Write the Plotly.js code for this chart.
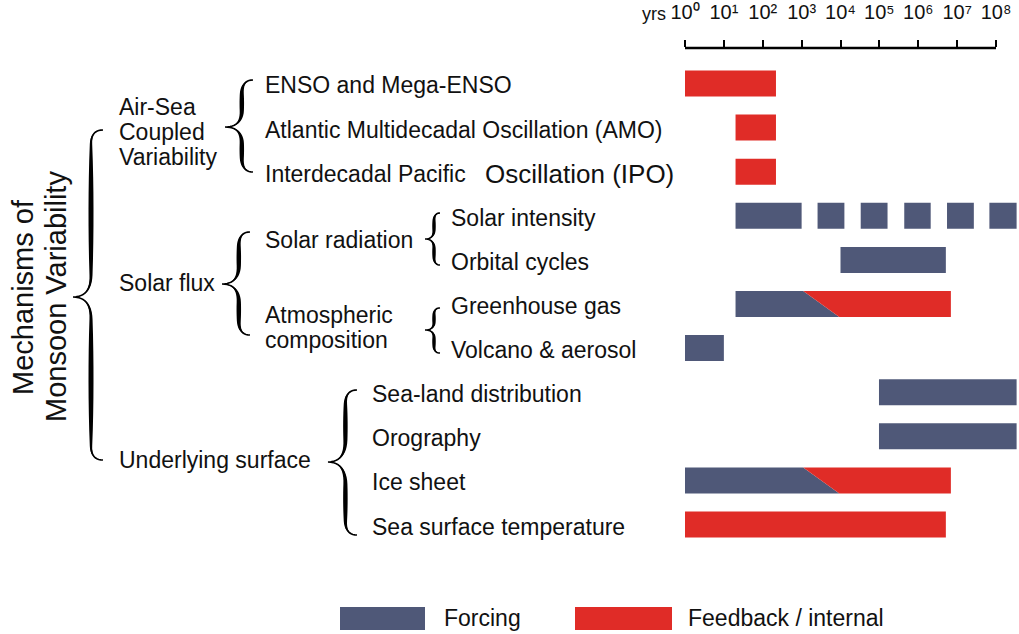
<!DOCTYPE html>
<html>
<head>
<meta charset="utf-8">
<script src="https://cdn.plot.ly/plotly-3.0.1.min.js"></script>
<style>body{margin:0;background:#fff}#chart{width:1019px;height:634px}</style>
</head>
<body>
<div id="chart"></div>
<script>
// ---------------- DATA (time scales in log10 years) ----------------
const categories = [
  "ENSO and Mega-ENSO",
  "Atlantic Multidecadal Oscillation (AMO)",
  "Interdecadal Pacific Oscillation (IPO)",
  "Solar intensity",
  "Orbital cycles",
  "Greenhouse gas",
  "Volcano & aerosol",
  "Sea-land distribution",
  "Orography",
  "Ice sheet",
  "Sea surface temperature"
];
const tickExponents = [0, 1, 2, 3, 4, 5, 6, 7, 8];
const tickLabels = ["10\u2070", "10\u00b9", "10\u00b2", "10\u00b3", "10\u2074",
                    "10\u2075", "10\u2076", "10\u2077", "10\u2078"];

// Forcing segments
const forcingRow   = [3, 3, 3, 3, 3, 3, 4, 6, 7, 8];
const forcingStart = [1.30, 3.41, 4.52, 5.64, 6.74, 7.83, 4.00, 0.00, 4.99, 4.99];
const forcingEnd   = [3.00, 4.10, 5.21, 6.32, 7.43, 8.53, 6.71, 1.00, 8.53, 8.53];

// Feedback / internal segments
const feedbackRow   = [0, 1, 2, 10];
const feedbackStart = [0.00, 1.30, 1.30, 0.00];
const feedbackEnd   = [2.34, 2.34, 2.34, 6.71];

// Mixed segments: forcing turning into feedback along a slanted boundary
const mixedRow         = [5, 9];
const mixedStart       = [1.30, 0.00];
const mixedSplitTop    = [3.04, 3.04];
const mixedSplitBottom = [3.97, 3.97];
const mixedEnd         = [6.84, 6.84];

const legendNames = ["Forcing", "Feedback / internal"];

// ---------------- STYLE / LAYOUT ----------------
const W = 1019, H = 634;
const BLUE = "#4f5878", RED = "#e02c27", INK = "#111111";
const FONT = "Liberation Sans, Arial, Helvetica, sans-serif";
const BAR = 0.59;               // bar thickness in row units
const fx = px => px / W;        // pixel -> paper
const fy = py => 1 - py / H;

const ppd = 38.875, x0px = 685;         // pixels per decade, position of 10^0
const xr = [-0.1, 8.55];
const xDomain = [fx(x0px + xr[0] * ppd), fx(x0px + xr[1] * ppd)];
const rowPx0 = 83.5, rowStep = 44.1, topPx = 48, botPx = 560;
const yRange = [(botPx - rowPx0) / rowStep, (topPx - rowPx0) / rowStep];
const yDomain = [fy(botPx), fy(topPx)];

const traces = [];
traces.push({
  type: "bar", orientation: "h", y: forcingRow, base: forcingStart,
  x: forcingEnd.map((e, i) => e - forcingStart[i]), width: BAR,
  marker: {color: BLUE, line: {width: 0}}, name: legendNames[0], showlegend: false, hoverinfo: "skip"
});
traces.push({
  type: "bar", orientation: "h", y: feedbackRow, base: feedbackStart,
  x: feedbackEnd.map((e, i) => e - feedbackStart[i]), width: BAR,
  marker: {color: RED, line: {width: 0}}, name: legendNames[1], showlegend: false, hoverinfo: "skip"
});
mixedRow.forEach((r, i) => {
  const t = r - BAR / 2, b = r + BAR / 2;
  traces.push({
    type: "scatter", mode: "lines", fill: "toself", fillcolor: BLUE,
    line: {width: 0, color: BLUE}, hoverinfo: "skip", showlegend: false,
    x: [mixedStart[i], mixedSplitTop[i], mixedSplitBottom[i], mixedStart[i], mixedStart[i]],
    y: [t, t, b, b, t]
  });
  traces.push({
    type: "scatter", mode: "lines", fill: "toself", fillcolor: RED,
    line: {width: 0, color: RED}, hoverinfo: "skip", showlegend: false,
    x: [mixedSplitTop[i], mixedEnd[i], mixedEnd[i], mixedSplitBottom[i], mixedSplitTop[i]],
    y: [t, t, b, b, t]
  });
});

// ---------------- annotations ----------------
const ann = [];
const txt = (text, xpx, ypx, size, extra) => Object.assign({
  text: text, xref: "paper", yref: "paper", x: fx(xpx), y: fy(ypx),
  xanchor: "left", yanchor: "middle", showarrow: false,
  font: {family: FONT, size: size || 23, color: INK}
}, extra || {});

// item labels, tied to rows
const labelX = [263, 263, 263, 449, 449, 449, 449, 370, 370, 370, 370];
categories.forEach((c, i) => {
  let text = c;
  if (c.indexOf(" Oscillation (IPO)") > 0) {
    text = c.replace(" Oscillation (IPO)", "");
    ann.push({text: "Oscillation (IPO)", xref: "paper", yref: "y", x: fx(483), y: i, yshift: -2,
      xanchor: "left", yanchor: "middle", showarrow: false, font: {family: FONT, size: 26, color: INK}});
  }
  ann.push({text: text, xref: "paper", yref: "y", x: fx(labelX[i]), y: i, yshift: -2,
    xanchor: "left", yanchor: "middle", showarrow: false, font: {family: FONT, size: 23, color: INK}});
});

// group labels
ann.push(txt("Air-Sea", 117, 107));
ann.push(txt("Coupled", 117, 132));
ann.push(txt("Variability", 117, 157));
ann.push(txt("Solar flux", 117, 283));
ann.push(txt("Underlying surface", 117, 460));
ann.push(txt("Solar radiation", 263, 240));
ann.push(txt("Atmospheric", 263, 315));
ann.push(txt("composition", 263, 340));
// rotated title
ann.push(txt("Mechanisms of", 23, 297, 29, {xanchor: "center", textangle: -90}));
ann.push(txt("Monsoon Variability", 56, 297, 29, {xanchor: "center", textangle: -90}));
// axis unit
ann.push(txt("yrs", 654, 14, 18, {xanchor: "center"}));
// legend labels
ann.push(txt(legendNames[0], 442, 618, 23));
ann.push(txt(legendNames[1], 686, 618, 23));

// ---------------- shapes ----------------
const shapes = [];
// ruler line from 10^0 to 10^8
shapes.push({type: "line", xref: "x", yref: "paper", x0: tickExponents[0], x1: tickExponents[tickExponents.length - 1],
  y0: fy(topPx), y1: fy(topPx), line: {color: "#000", width: 2.5}});

// curly brace drawn as a tapered filled outline
function brace(xl, xrt, yt, yc, yb, wmax) {
  const xm = xl + 0.6 * (xrt - xl);
  const re = Math.min(14, (yc - yt) * 0.3);
  const rt = Math.min(22, (yc - yt) * 0.35);
  const pts = [];
  const quad = (p0, c, p1, n) => {
    for (let k = 0; k <= n; k++) {
      const t = k / n;
      pts.push([(1 - t) * (1 - t) * p0[0] + 2 * (1 - t) * t * c[0] + t * t * p1[0],
                (1 - t) * (1 - t) * p0[1] + 2 * (1 - t) * t * c[1] + t * t * p1[1]]);
    }
  };
  quad([xrt, yt], [xm, yt], [xm, yt + re], 10);
  quad([xm, yt + re], [xm, (yt + re + yc - rt) / 2], [xm, yc - rt], 8);
  quad([xm, yc - rt], [xm, yc], [xl, yc], 12);
  quad([xl, yc], [xm, yc], [xm, yc + rt], 12);
  quad([xm, yc + rt], [xm, (yc + rt + yb - re) / 2], [xm, yb - re], 8);
  quad([xm, yb - re], [xm, yb], [xrt, yb], 10);
  const wAt = y => {
    const s = y <= yc ? (y - yt) / (yc - yt) : (yb - y) / (yb - yc);
    return wmax * Math.pow(Math.max(0, Math.sin(Math.PI * Math.min(1, Math.max(0, s)))), 0.55);
  };
  const P = (x, y) => fx(x).toFixed(5) + "," + fy(y).toFixed(5);
  let outline = "";
  pts.forEach((p, k) => { outline += (k ? " L" : "M") + P(p[0] - wAt(p[1]) / 2, p[1]); });
  for (let k = pts.length - 1; k >= 0; k--) { const p = pts[k]; outline += " L" + P(p[0] + wAt(p[1]) / 2, p[1]); }
  outline += " Z";
  shapes.push({type: "path", xref: "paper", yref: "paper", path: outline, fillcolor: "#000", line: {width: 0}});
  let center = "";
  pts.forEach((p, k) => { center += (k ? " L" : "M") + P(p[0], p[1]); });
  shapes.push({type: "path", xref: "paper", yref: "paper", path: center, line: {color: "#000", width: 1.6}});
}
brace(73, 103, 130, 297, 460, 5);
brace(225, 253, 80, 127, 172, 4.5);
brace(222, 250, 232, 284, 335, 4.5);
brace(425, 440, 213, 239, 265, 3.5);
brace(425, 440, 308, 330, 353, 3.5);
brace(328, 357, 390, 462, 535, 4.5);

// legend swatches
shapes.push({type: "rect", xref: "paper", yref: "paper", x0: fx(340), x1: fx(425), y0: fy(607), y1: fy(630),
  fillcolor: BLUE, line: {width: 0}});
shapes.push({type: "rect", xref: "paper", yref: "paper", x0: fx(575), x1: fx(672), y0: fy(607), y1: fy(630),
  fillcolor: RED, line: {width: 0}});

const layout = {
  width: W, height: H,
  margin: {l: 0, r: 0, t: 0, b: 0},
  paper_bgcolor: "#fff", plot_bgcolor: "#fff",
  barmode: "overlay",
  showlegend: false,
  xaxis: {
    domain: xDomain, range: xr, side: "top", anchor: "y",
    tickmode: "array", tickvals: tickExponents, ticktext: tickLabels,
    ticks: "outside", ticklen: 7, tickwidth: 2, tickcolor: "#000",
    ticklabelstandoff: 13,
    tickfont: {family: FONT, size: 20, color: INK},
    showgrid: false, zeroline: false, showline: false, fixedrange: true
  },
  yaxis: {
    domain: yDomain, range: yRange, visible: false, fixedrange: true
  },
  annotations: ann,
  shapes: shapes
};

Plotly.newPlot("chart", traces, layout, {staticPlot: true, displayModeBar: false});
</script>
</body>
</html>
